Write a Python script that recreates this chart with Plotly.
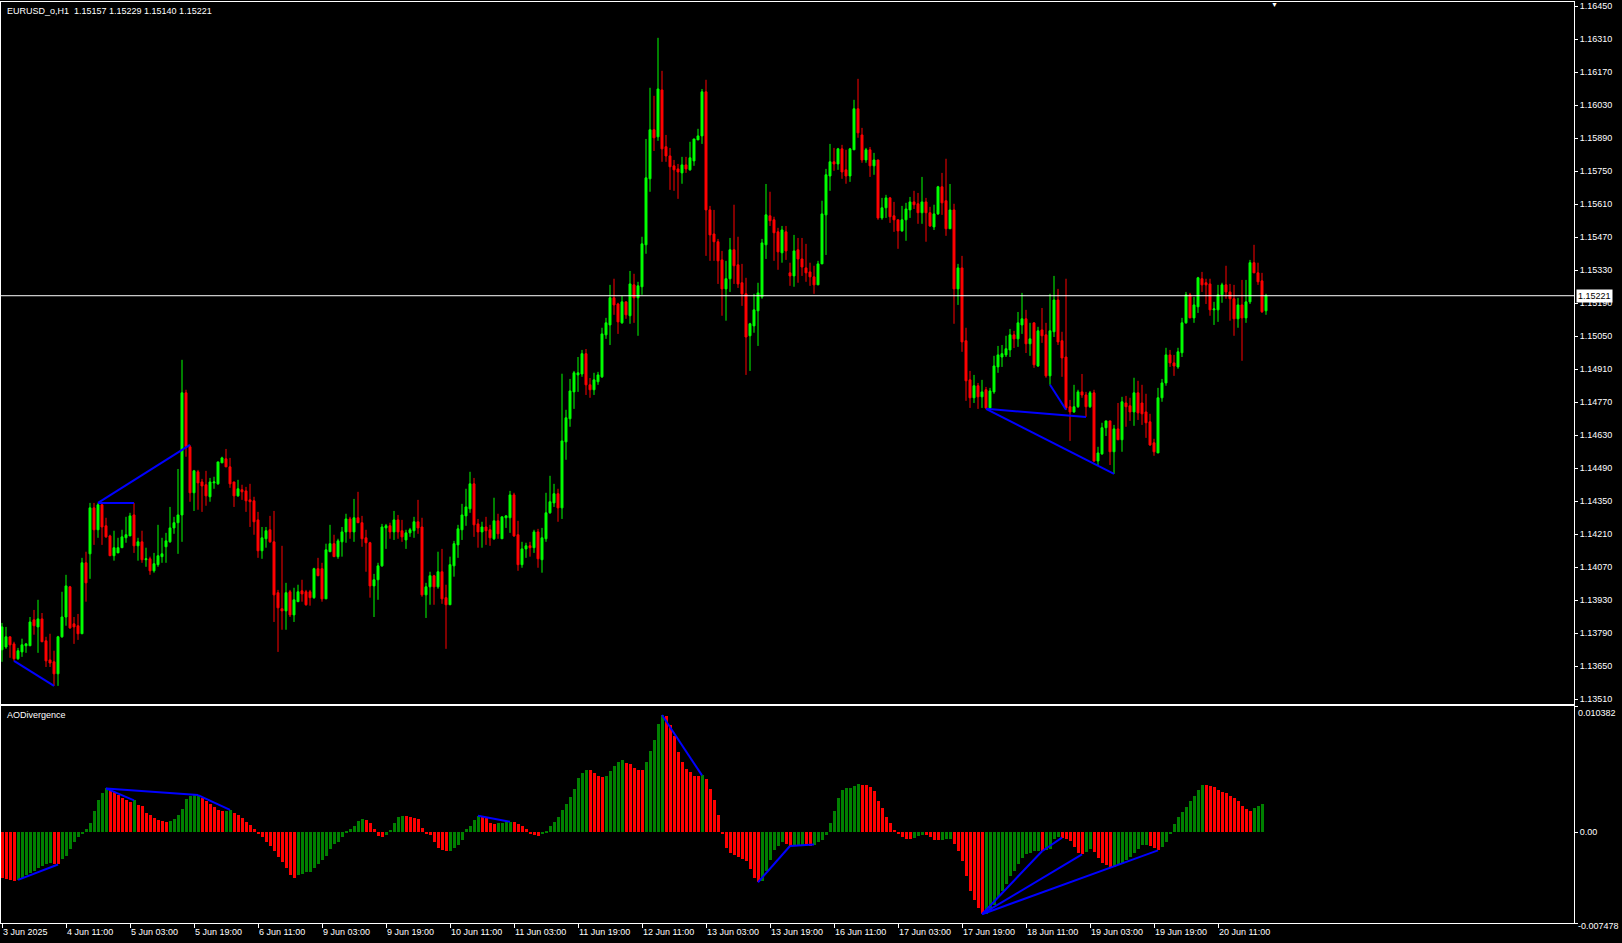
import plotly.graph_objects as go

# ---------------- data (EURUSD H1) ----------------
opens = [
1.13719, 1.13731, 1.13774, 1.13744, 1.13681, 1.13710, 1.13736, 1.13736, 1.13846, 1.13816,
1.13850, 1.13757, 1.13676, 1.13668, 1.13617, 1.13774, 1.13858, 1.13986, 1.13829, 1.13821,
1.13787, 1.14088, 1.14126, 1.14321, 1.14228, 1.14334, 1.14245, 1.14202, 1.14118, 1.14130,
1.14152, 1.14194, 1.14202, 1.14291, 1.14160, 1.14177, 1.14101, 1.14105, 1.14054, 1.14080,
1.14114, 1.14156, 1.14177, 1.14236, 1.14258, 1.14291, 1.14809, 1.14580, 1.14385, 1.14474,
1.14431, 1.14419, 1.14368, 1.14427, 1.14423, 1.14512, 1.14529, 1.14495, 1.14431, 1.14372,
1.14398, 1.14393, 1.14355, 1.14351, 1.14270, 1.14139, 1.14190, 1.14228, 1.14177, 1.13961,
1.13893, 1.13884, 1.13965, 1.13867, 1.13923, 1.13969, 1.13965, 1.13965, 1.13940, 1.14063,
1.14063, 1.13935, 1.14135, 1.14169, 1.14114, 1.14177, 1.14219, 1.14274, 1.14219, 1.14279,
1.14258, 1.14194, 1.14173, 1.13990, 1.14016, 1.14075, 1.14236, 1.14245, 1.14219, 1.14270,
1.14224, 1.14185, 1.14215, 1.14224, 1.14262, 1.14240, 1.13952, 1.13986, 1.14033, 1.13986,
1.14050, 1.13940, 1.13910, 1.14075, 1.14164, 1.14228, 1.14287, 1.14317, 1.14423, 1.14253,
1.14219, 1.14240, 1.14228, 1.14190, 1.14266, 1.14190, 1.14279, 1.14279, 1.14376, 1.14207,
1.14080, 1.14147, 1.14160, 1.14152, 1.14219, 1.14101, 1.14190, 1.14300, 1.14342, 1.14381,
1.14321, 1.14601, 1.14699, 1.14813, 1.14885, 1.14889, 1.14975, 1.14843, 1.14822, 1.14856,
1.14877, 1.15055, 1.15097, 1.15212, 1.15186, 1.15106, 1.15195, 1.15136, 1.15267, 1.15212,
1.15259, 1.15437, 1.15717, 1.15925, 1.15895, 1.16094, 1.15853, 1.15814, 1.15772, 1.15759,
1.15742, 1.15776, 1.15755, 1.15793, 1.15882, 1.15899, 1.16086, 1.15585, 1.15483, 1.15450,
1.15373, 1.15250, 1.15293, 1.15416, 1.15352, 1.15276, 1.15229, 1.15051, 1.15093, 1.15157,
1.15216, 1.15437, 1.15560, 1.15543, 1.15492, 1.15403, 1.15492, 1.15318, 1.15305, 1.15416,
1.15377, 1.15339, 1.15322, 1.15301, 1.15267, 1.15356, 1.15564, 1.15729, 1.15789, 1.15780,
1.15844, 1.15755, 1.15729, 1.15840, 1.16014, 1.15903, 1.15797, 1.15840, 1.15772, 1.15797,
1.15551, 1.15594, 1.15636, 1.15560, 1.15543, 1.15496, 1.15543, 1.15585, 1.15619, 1.15611,
1.15573, 1.15619, 1.15573, 1.15513, 1.15568, 1.15683, 1.15624, 1.15505, 1.15585, 1.15250,
1.15339, 1.15030, 1.14864, 1.14788, 1.14839, 1.14792, 1.14822, 1.14745, 1.14813, 1.14919,
1.14961, 1.14970, 1.14991, 1.15055, 1.15038, 1.15097, 1.15123, 1.15017, 1.15106, 1.14923,
1.15076, 1.15055, 1.14881, 1.15068, 1.15203, 1.15030, 1.14961, 1.14750, 1.14728, 1.14750,
1.14813, 1.14800, 1.14750, 1.14809, 1.14520, 1.14550, 1.14661, 1.14690, 1.14559, 1.14656,
1.14610, 1.14766, 1.14754, 1.14728, 1.14809, 1.14766, 1.14728, 1.14686, 1.14597, 1.14554,
1.14788, 1.14851, 1.14970, 1.14936, 1.14919, 1.14979, 1.15106, 1.15225, 1.15127, 1.15174,
1.15293, 1.15276, 1.15271, 1.15161, 1.15161, 1.15225, 1.15267, 1.15237, 1.15208, 1.15123,
1.15182, 1.15127, 1.15195, 1.15361, 1.15318, 1.15284, 1.15157]

highs = [
1.13833, 1.13816, 1.13774, 1.13753, 1.13727, 1.13766, 1.13748, 1.13858, 1.13888, 1.13931,
1.13875, 1.13774, 1.13787, 1.13715, 1.13778, 1.13965, 1.14037, 1.13990, 1.13858, 1.13871,
1.14109, 1.14135, 1.14342, 1.14342, 1.14342, 1.14338, 1.14279, 1.14207, 1.14224, 1.14194,
1.14228, 1.14283, 1.14300, 1.14342, 1.14194, 1.14224, 1.14152, 1.14114, 1.14130, 1.14249,
1.14194, 1.14215, 1.14325, 1.14283, 1.14486, 1.14949, 1.14822, 1.14588, 1.14482, 1.14482,
1.14444, 1.14478, 1.14448, 1.14453, 1.14516, 1.14538, 1.14571, 1.14533, 1.14431, 1.14440,
1.14419, 1.14410, 1.14423, 1.14368, 1.14304, 1.14240, 1.14240, 1.14287, 1.14308, 1.13973,
1.14160, 1.14003, 1.13973, 1.13982, 1.13995, 1.14016, 1.13973, 1.13973, 1.14067, 1.14109,
1.14088, 1.14169, 1.14249, 1.14207, 1.14190, 1.14240, 1.14296, 1.14283, 1.14359, 1.14389,
1.14287, 1.14228, 1.14177, 1.14041, 1.14088, 1.14253, 1.14253, 1.14258, 1.14308, 1.14291,
1.14270, 1.14228, 1.14236, 1.14283, 1.14355, 1.14279, 1.14003, 1.14050, 1.14037, 1.14135,
1.14147, 1.13995, 1.14114, 1.14181, 1.14249, 1.14338, 1.14402, 1.14474, 1.14448, 1.14274,
1.14262, 1.14283, 1.14249, 1.14364, 1.14296, 1.14283, 1.14291, 1.14393, 1.14385, 1.14266,
1.14177, 1.14173, 1.14177, 1.14228, 1.14232, 1.14236, 1.14385, 1.14457, 1.14423, 1.14402,
1.14890, 1.14737, 1.14868, 1.14902, 1.14961, 1.14991, 1.14995, 1.14872, 1.14894, 1.14898,
1.15085, 1.15127, 1.15267, 1.15293, 1.15191, 1.15220, 1.15195, 1.15326, 1.15314, 1.15280,
1.15471, 1.15886, 1.16103, 1.16069, 1.16315, 1.16175, 1.15903, 1.15848, 1.15797, 1.15780,
1.15810, 1.15810, 1.15874, 1.15886, 1.15929, 1.16098, 1.16137, 1.15602, 1.15585, 1.15462,
1.15411, 1.15369, 1.15466, 1.15607, 1.15471, 1.15356, 1.15297, 1.15106, 1.15229, 1.15276,
1.15462, 1.15695, 1.15662, 1.15556, 1.15509, 1.15517, 1.15517, 1.15361, 1.15479, 1.15466,
1.15466, 1.15441, 1.15361, 1.15348, 1.15369, 1.15624, 1.15759, 1.15865, 1.15848, 1.15848,
1.15861, 1.15840, 1.15848, 1.16052, 1.16141, 1.15933, 1.15848, 1.15852, 1.15827, 1.15797,
1.15636, 1.15649, 1.15640, 1.15619, 1.15543, 1.15602, 1.15615, 1.15640, 1.15666, 1.15657,
1.15725, 1.15636, 1.15598, 1.15607, 1.15687, 1.15742, 1.15802, 1.15695, 1.15611, 1.15356,
1.15390, 1.15085, 1.14902, 1.14885, 1.14851, 1.14864, 1.14834, 1.14830, 1.14966, 1.15008,
1.15012, 1.15051, 1.15080, 1.15072, 1.15152, 1.15233, 1.15161, 1.15106, 1.15106, 1.15089,
1.15169, 1.15106, 1.15229, 1.15305, 1.15250, 1.15068, 1.15293, 1.14779, 1.14843, 1.14822,
1.14889, 1.14813, 1.14817, 1.14822, 1.14580, 1.14682, 1.14690, 1.14690, 1.14673, 1.14766,
1.14792, 1.14796, 1.14788, 1.14873, 1.14860, 1.14843, 1.14805, 1.14720, 1.14614, 1.14830,
1.14868, 1.15000, 1.14991, 1.14970, 1.15000, 1.15127, 1.15237, 1.15233, 1.15216, 1.15301,
1.15322, 1.15293, 1.15293, 1.15195, 1.15267, 1.15276, 1.15348, 1.15271, 1.15267, 1.15212,
1.15288, 1.15288, 1.15373, 1.15437, 1.15361, 1.15318, 1.15229]

lows = [
1.13668, 1.13723, 1.13685, 1.13672, 1.13676, 1.13689, 1.13706, 1.13736, 1.13783, 1.13706,
1.13753, 1.13646, 1.13646, 1.13566, 1.13566, 1.13770, 1.13821, 1.13808, 1.13744, 1.13761,
1.13787, 1.13923, 1.14020, 1.14164, 1.14194, 1.14164, 1.14194, 1.14118, 1.14097, 1.14130,
1.14152, 1.14173, 1.14202, 1.14130, 1.14097, 1.14088, 1.14071, 1.14037, 1.14046, 1.14071,
1.14088, 1.14088, 1.14173, 1.14211, 1.14126, 1.14177, 1.14538, 1.14347, 1.14308, 1.14313,
1.14304, 1.14330, 1.14347, 1.14402, 1.14419, 1.14512, 1.14495, 1.14406, 1.14325, 1.14368,
1.14355, 1.14304, 1.14240, 1.14207, 1.14109, 1.14105, 1.14152, 1.14173, 1.13837, 1.13710,
1.13804, 1.13804, 1.13858, 1.13837, 1.13923, 1.13923, 1.13906, 1.13906, 1.13935, 1.14033,
1.13923, 1.13935, 1.14135, 1.14114, 1.14105, 1.14114, 1.14173, 1.14190, 1.14177, 1.14258,
1.14156, 1.14050, 1.13940, 1.13858, 1.13931, 1.14071, 1.14147, 1.14190, 1.14185, 1.14190,
1.14177, 1.14147, 1.14198, 1.14194, 1.14211, 1.13944, 1.13854, 1.13910, 1.13910, 1.13978,
1.13914, 1.13723, 1.13910, 1.14029, 1.14109, 1.14185, 1.14245, 1.14300, 1.14198, 1.14152,
1.14152, 1.14164, 1.14160, 1.14185, 1.14190, 1.14190, 1.14236, 1.14215, 1.14198, 1.14054,
1.14067, 1.14109, 1.14114, 1.14130, 1.14067, 1.14046, 1.14177, 1.14296, 1.14325, 1.14262,
1.14274, 1.14525, 1.14665, 1.14741, 1.14813, 1.14877, 1.14800, 1.14788, 1.14800, 1.14843,
1.14872, 1.15038, 1.15012, 1.15140, 1.15059, 1.15102, 1.15123, 1.15102, 1.15106, 1.15051,
1.15225, 1.15399, 1.15662, 1.15835, 1.15878, 1.15789, 1.15789, 1.15670, 1.15666, 1.15632,
1.15696, 1.15742, 1.15751, 1.15772, 1.15882, 1.15865, 1.15390, 1.15369, 1.15369, 1.15271,
1.15136, 1.15115, 1.15237, 1.15271, 1.15254, 1.15178, 1.14885, 1.14902, 1.15064, 1.15008,
1.15208, 1.15377, 1.15517, 1.15369, 1.15331, 1.15361, 1.15373, 1.15263, 1.15259, 1.15276,
1.15305, 1.15280, 1.15263, 1.15229, 1.15267, 1.15356, 1.15394, 1.15666, 1.15751, 1.15755,
1.15717, 1.15696, 1.15704, 1.15840, 1.15891, 1.15785, 1.15785, 1.15725, 1.15734, 1.15543,
1.15543, 1.15551, 1.15530, 1.15492, 1.15420, 1.15492, 1.15454, 1.15551, 1.15589, 1.15526,
1.15526, 1.15450, 1.15513, 1.15500, 1.15564, 1.15564, 1.15475, 1.15505, 1.15102, 1.15182,
1.14983, 1.14775, 1.14745, 1.14766, 1.14741, 1.14745, 1.14741, 1.14741, 1.14805, 1.14894,
1.14919, 1.14961, 1.14961, 1.14999, 1.15004, 1.15059, 1.14978, 1.14966, 1.14915, 1.14919,
1.15021, 1.14873, 1.14843, 1.15046, 1.15012, 1.14877, 1.14737, 1.14605, 1.14724, 1.14745,
1.14788, 1.14707, 1.14745, 1.14516, 1.14503, 1.14546, 1.14626, 1.14503, 1.14465, 1.14610,
1.14559, 1.14665, 1.14690, 1.14669, 1.14694, 1.14673, 1.14618, 1.14584, 1.14542, 1.14554,
1.14771, 1.14839, 1.14919, 1.14881, 1.14911, 1.14961, 1.15102, 1.15127, 1.15106, 1.15148,
1.15237, 1.15186, 1.15136, 1.15097, 1.15110, 1.15191, 1.15208, 1.15115, 1.15051, 1.15085,
1.14945, 1.15106, 1.15186, 1.15318, 1.15267, 1.15148, 1.15140]

closes = [
1.13816, 1.13774, 1.13740, 1.13681, 1.13715, 1.13740, 1.13744, 1.13837, 1.13821, 1.13850,
1.13753, 1.13672, 1.13663, 1.13617, 1.13774, 1.13858, 1.13990, 1.13812, 1.13816, 1.13787,
1.14088, 1.14003, 1.14321, 1.14228, 1.14334, 1.14240, 1.14198, 1.14118, 1.14152, 1.14152,
1.14198, 1.14207, 1.14287, 1.14160, 1.14177, 1.14101, 1.14105, 1.14054, 1.14084, 1.14118,
1.14126, 1.14181, 1.14236, 1.14258, 1.14291, 1.14809, 1.14580, 1.14385, 1.14478, 1.14427,
1.14414, 1.14372, 1.14431, 1.14431, 1.14516, 1.14533, 1.14495, 1.14423, 1.14372, 1.14402,
1.14389, 1.14351, 1.14347, 1.14262, 1.14139, 1.14194, 1.14224, 1.14177, 1.13952, 1.13897,
1.13884, 1.13961, 1.13867, 1.13931, 1.13965, 1.13956, 1.13910, 1.13940, 1.14063, 1.14033,
1.13935, 1.14143, 1.14169, 1.14114, 1.14181, 1.14219, 1.14274, 1.14219, 1.14279, 1.14258,
1.14190, 1.14173, 1.13990, 1.14016, 1.14075, 1.14240, 1.14245, 1.14219, 1.14270, 1.14219,
1.14198, 1.14215, 1.14228, 1.14262, 1.14236, 1.13952, 1.13986, 1.14033, 1.13986, 1.14050,
1.13935, 1.13910, 1.14080, 1.14169, 1.14232, 1.14291, 1.14325, 1.14423, 1.14249, 1.14219,
1.14240, 1.14224, 1.14194, 1.14266, 1.14211, 1.14283, 1.14287, 1.14376, 1.14202, 1.14080,
1.14147, 1.14160, 1.14152, 1.14219, 1.14105, 1.14194, 1.14300, 1.14347, 1.14381, 1.14321,
1.14605, 1.14703, 1.14817, 1.14894, 1.14894, 1.14975, 1.14843, 1.14822, 1.14864, 1.14885,
1.15059, 1.15106, 1.15212, 1.15182, 1.15110, 1.15195, 1.15140, 1.15271, 1.15212, 1.15263,
1.15441, 1.15721, 1.15925, 1.15891, 1.16098, 1.15844, 1.15814, 1.15768, 1.15755, 1.15746,
1.15776, 1.15759, 1.15806, 1.15886, 1.15899, 1.16086, 1.15585, 1.15479, 1.15450, 1.15369,
1.15250, 1.15293, 1.15416, 1.15348, 1.15271, 1.15229, 1.15046, 1.15102, 1.15161, 1.15233,
1.15445, 1.15564, 1.15539, 1.15488, 1.15407, 1.15500, 1.15411, 1.15305, 1.15411, 1.15377,
1.15343, 1.15318, 1.15301, 1.15267, 1.15356, 1.15568, 1.15734, 1.15789, 1.15780, 1.15844,
1.15746, 1.15729, 1.15844, 1.16014, 1.15912, 1.15797, 1.15840, 1.15772, 1.15797, 1.15551,
1.15594, 1.15636, 1.15556, 1.15543, 1.15496, 1.15543, 1.15589, 1.15619, 1.15607, 1.15573,
1.15619, 1.15573, 1.15517, 1.15568, 1.15683, 1.15615, 1.15505, 1.15585, 1.15250, 1.15339,
1.15025, 1.14860, 1.14788, 1.14839, 1.14792, 1.14813, 1.14745, 1.14817, 1.14923, 1.14970,
1.14975, 1.14996, 1.15055, 1.15038, 1.15106, 1.15123, 1.15017, 1.15038, 1.14928, 1.15072,
1.15051, 1.14881, 1.15072, 1.15203, 1.15025, 1.14957, 1.14745, 1.14728, 1.14750, 1.14813,
1.14800, 1.14750, 1.14809, 1.14520, 1.14554, 1.14661, 1.14690, 1.14559, 1.14656, 1.14610,
1.14771, 1.14750, 1.14728, 1.14809, 1.14724, 1.14720, 1.14682, 1.14588, 1.14559, 1.14788,
1.14851, 1.14970, 1.14936, 1.14923, 1.14983, 1.15106, 1.15225, 1.15127, 1.15182, 1.15297,
1.15267, 1.15267, 1.15161, 1.15165, 1.15225, 1.15267, 1.15237, 1.15208, 1.15123, 1.15182,
1.15127, 1.15195, 1.15361, 1.15318, 1.15280, 1.15153, 1.15221]

# Awesome Oscillator histogram values
ao = [
-0.003798, -0.003881, -0.003947, -0.003989, -0.003931, -0.003740, -0.003548, -0.003382, -0.003216, -0.002967,
-0.002767, -0.002634, -0.002551, -0.002618, -0.002659, -0.002244, -0.001969, -0.001388, -0.000831, -0.000416,
-0.000108, 0.000274, 0.000773, 0.001720, 0.002634, 0.003241, 0.003598, 0.003490, 0.003324, 0.003075,
0.002825, 0.002659, 0.002493, 0.002618, 0.002269, 0.002136, 0.001579, 0.001371, 0.001163, 0.000997,
0.000914, 0.000856, 0.000897, 0.001105, 0.001388, 0.001911, 0.002742, 0.002967, 0.003017, 0.003050,
0.002784, 0.002551, 0.002327, 0.002053, 0.001803, 0.001720, 0.001770, 0.001828, 0.001579, 0.001371,
0.001163, 0.000831, 0.000557, 0.000291, -0.000166, -0.000416, -0.000831, -0.001163, -0.001579, -0.002078,
-0.002451, -0.002992, -0.003490, -0.003740, -0.003490, -0.003449, -0.003299, -0.003241, -0.002967, -0.002601,
-0.002327, -0.001936, -0.001413, -0.000997, -0.000806, -0.000391, 0.000125, 0.000249, 0.000499, 0.000914,
0.001080, 0.000997, 0.000748, 0.000249, -0.000307, -0.000391, -0.000224, 0.000166, 0.000748, 0.001271,
0.001330, 0.001305, 0.001222, 0.001138, 0.001080, 0.000332, -0.000125, -0.000249, -0.000831, -0.001305,
-0.001496, -0.001554, -0.001521, -0.001305, -0.001055, -0.000665, 0.000224, 0.000499, 0.000997, 0.001355,
0.001271, 0.001138, 0.000748, 0.000665, 0.000748, 0.000773, 0.000831, 0.000856, 0.000831, 0.000665,
0.000499, 0.000249, -0.000083, -0.000274, -0.000291, -0.000166, 0.000083, 0.000499, 0.000831, 0.001271,
0.001828, 0.002327, 0.002884, 0.003573, 0.004462, 0.004878, 0.005152, 0.005094, 0.004878, 0.004654,
0.004546, 0.004654, 0.005069, 0.005485, 0.005792, 0.005900, 0.005709, 0.005626, 0.005293, 0.005152,
0.005094, 0.005759, 0.006673, 0.007562, 0.008892, 0.009640, 0.009532, 0.008809, 0.007919, 0.006623,
0.005792, 0.005210, 0.004928, 0.004654, 0.004637, 0.004670, 0.004379, 0.003548, 0.002659, 0.001413,
-0.000108, -0.001330, -0.001720, -0.001911, -0.002053, -0.002186, -0.002410, -0.003017, -0.003764, -0.004130,
-0.003989, -0.003158, -0.002269, -0.001496, -0.001138, -0.000806, -0.000939, -0.001138, -0.001097, -0.001072,
-0.001047, -0.001080, -0.001122, -0.001022, -0.000806, -0.000607, -0.000224, 0.000723, 0.001745, 0.002800,
0.003432, 0.003656, 0.003673, 0.003764, 0.003989, 0.003906, 0.003881, 0.003715, 0.003407, 0.002576,
0.001969, 0.001247, 0.000723, 0.000166, -0.000108, -0.000391, -0.000582, -0.000598, -0.000474, -0.000307,
-0.000224, -0.000274, -0.000440, -0.000607, -0.000665, -0.000607, -0.000557, -0.000540, -0.000997, -0.001554,
-0.002410, -0.003573, -0.004878, -0.005593, -0.006257, -0.006756, -0.006706, -0.006424, -0.005983, -0.005377,
-0.004878, -0.004263, -0.003573, -0.003158, -0.002659, -0.002136, -0.001828, -0.001687, -0.001579, -0.001554,
-0.001571, -0.001496, -0.001355, -0.000582, -0.000416, -0.000457, -0.000540, -0.000723, -0.001222, -0.001720,
-0.001828, -0.001662, -0.001413, -0.001637, -0.002102, -0.002518, -0.002742, -0.002933, -0.002884, -0.002742,
-0.002518, -0.002327, -0.002053, -0.001687, -0.001355, -0.001080, -0.001064, -0.001138, -0.001305, -0.001496,
-0.001222, -0.000806, -0.000166, 0.000665, 0.001222, 0.001637, 0.002053, 0.002576, 0.002992, 0.003490,
0.003906, 0.003889, 0.003823, 0.003681, 0.003490, 0.003266, 0.003216, 0.002992, 0.002800, 0.002576,
0.002161, 0.001911, 0.001745, 0.002019, 0.002161, 0.002327]

symbol_label = "EURUSD_o,H1"
indicator_label = "AODivergence"

x_tick_bars = [0, 16, 32, 48, 64, 80, 96, 112, 128, 144, 160, 176, 192, 208, 224, 240, 256, 272, 288, 304]
x_tick_labels = ["3 Jun 2025", "4 Jun 11:00", "5 Jun 03:00", "5 Jun 19:00", "6 Jun 11:00",
                 "9 Jun 03:00", "9 Jun 19:00", "10 Jun 11:00", "11 Jun 03:00", "11 Jun 19:00",
                 "12 Jun 11:00", "13 Jun 03:00", "13 Jun 19:00", "16 Jun 11:00", "17 Jun 03:00",
                 "17 Jun 19:00", "18 Jun 11:00", "19 Jun 03:00", "19 Jun 19:00", "20 Jun 11:00"]

price_ticks = [1.13510, 1.13650, 1.13790, 1.13930, 1.14070, 1.14210, 1.14350, 1.14490,
               1.14630, 1.14770, 1.14910, 1.15050, 1.15190, 1.15330, 1.15470, 1.15610,
               1.15750, 1.15890, 1.16030, 1.16170, 1.16310, 1.16450]
price_range = [1.13491, 1.16467]
ao_range = [-0.007478, 0.010382]
ao_range_labels = ["-0.007478", "0.00", "0.010382"]

# divergence lines, as bar-index pairs
div_price_low = [(3, 13), (246, 278), (246, 271), (262, 266)]
div_price_high = [(24, 47), (24, 33)]
div_ao = [(4, 14), (26, 49), (26, 33), (49, 57), (119, 127), (165, 175),
          (189, 197), (197, 203), (245, 260), (260, 265), (245, 270), (245, 289)]

# ---------------- figure ----------------
FONT = "Liberation Sans, Arial, sans-serif"
BLUE = "#0000FF"
xs = list(range(len(closes)))

fig = go.Figure()
fig.add_trace(go.Candlestick(
    x=xs, open=opens, high=highs, low=lows, close=closes,
    xaxis="x", yaxis="y", whiskerwidth=0,
    increasing=dict(line=dict(color="#00FF00", width=1), fillcolor="#00FF00"),
    decreasing=dict(line=dict(color="#FF0000", width=1), fillcolor="#FF0000"),
    hoverinfo="skip", showlegend=False))

ao_colors = ["#FF0000"] + ["#008000" if ao[k] > ao[k - 1] else "#FF0000" for k in range(1, len(ao))]
fig.add_trace(go.Bar(x=list(range(len(ao))), y=ao, width=0.75,
                     marker=dict(color=ao_colors, line=dict(width=0)),
                     xaxis="x2", yaxis="y2", hoverinfo="skip", showlegend=False))

for a, b in div_price_low:
    fig.add_trace(go.Scatter(x=[a, b], y=[lows[a], lows[b]], mode="lines",
                             line=dict(color=BLUE, width=2), xaxis="x", yaxis="y",
                             hoverinfo="skip", showlegend=False))
for a, b in div_price_high:
    fig.add_trace(go.Scatter(x=[a, b], y=[highs[a], highs[b]], mode="lines",
                             line=dict(color=BLUE, width=2), xaxis="x", yaxis="y",
                             hoverinfo="skip", showlegend=False))
for a, b in div_ao:
    fig.add_trace(go.Scatter(x=[a, b], y=[ao[a], ao[b]], mode="lines",
                             line=dict(color=BLUE, width=2), xaxis="x2", yaxis="y2",
                             hoverinfo="skip", showlegend=False))

# current price line
fig.add_shape(type="line", xref="x domain", x0=0, x1=1, yref="y",
              y0=closes[-1], y1=closes[-1], line=dict(color="white", width=1))

tickfont = dict(color="white", size=9, family=FONT)
x_range = [-0.25, 393]

fig.update_layout(
    width=1622, height=943,
    paper_bgcolor="black", plot_bgcolor="black",
    margin=dict(l=1, r=48, t=2, b=20),
    showlegend=False, bargap=0, boxgap=0.3,
    xaxis=dict(domain=[0, 1], anchor="y", range=x_range, matches="x2",
               showgrid=False, zeroline=False, showticklabels=False, ticks="",
               showline=True, linecolor="white", linewidth=1, mirror=True,
               rangeslider=dict(visible=False)),
    yaxis=dict(domain=[0.2383, 1], anchor="x", side="right", range=price_range,
               tickvals=price_ticks, ticktext=[f"{v:.5f}" for v in price_ticks],
               ticks="outside", ticklen=3, tickcolor="white", tickfont=tickfont,
               showgrid=False, zeroline=False,
               showline=True, linecolor="white", linewidth=1, mirror=True),
    xaxis2=dict(domain=[0, 1], anchor="y2", range=x_range,
                tickvals=x_tick_bars, ticktext=x_tick_labels,
                ticks="outside", ticklen=4, tickcolor="white",
                ticklabelposition="outside right", tickfont=tickfont,
                showgrid=False, zeroline=False,
                showline=True, linecolor="white", linewidth=1, mirror=True),
    yaxis2=dict(domain=[0, 0.2356], anchor="x2", side="right", range=ao_range,
                tickvals=[ao_range[0], 0, ao_range[1]], ticktext=["", ao_range_labels[1], ""],
                ticks="outside", ticklen=3, tickcolor="white", tickfont=tickfont,
                showgrid=False, zeroline=False,
                showline=True, linecolor="white", linewidth=1, mirror=True),
)

annotations = [
    dict(text=f"{symbol_label}\u00a0\u00a0{opens[-1]:.5f} {highs[-1]:.5f} {lows[-1]:.5f} {closes[-1]:.5f}",
         xref="paper", x=0, xanchor="left", xshift=4,
         yref="paper", y=1, yanchor="top", yshift=-2,
         showarrow=False, font=dict(color="white", size=9, family=FONT)),
    dict(text=indicator_label, xref="paper", x=0, xanchor="left", xshift=4,
         yref="y2 domain", y=1, yanchor="top", yshift=-2,
         showarrow=False, font=dict(color="white", size=9, family=FONT)),
    dict(text=ao_range_labels[2], xref="paper", x=1, xanchor="left", xshift=2,
         yref="y2", y=ao_range[1], yanchor="top", yshift=0,
         showarrow=False, font=dict(color="white", size=9, family=FONT)),
    dict(text=ao_range_labels[0], xref="paper", x=1, xanchor="left", xshift=2,
         yref="y2", y=ao_range[0], yanchor="middle", yshift=-3,
         showarrow=False, font=dict(color="white", size=9, family=FONT)),
    dict(text=f"{closes[-1]:.5f}", xref="paper", x=1, xanchor="left", xshift=2,
         yref="y", y=closes[-1], yanchor="middle",
         showarrow=False, bgcolor="white", borderpad=1,
         font=dict(color="black", size=9, family=FONT)),
    dict(text="\u25BC", xref="x", x=318, yref="paper", y=1, yanchor="top", yshift=3,
         showarrow=False, font=dict(color="white", size=7, family=FONT)),
]
fig.update_layout(annotations=annotations)

fig.write_html("out.html",
               config={"displayModeBar": False},
               post_script="document.body.style.margin='0px';"
                           "document.body.style.overflow='hidden';"
                           "document.documentElement.style.overflow='hidden';")
